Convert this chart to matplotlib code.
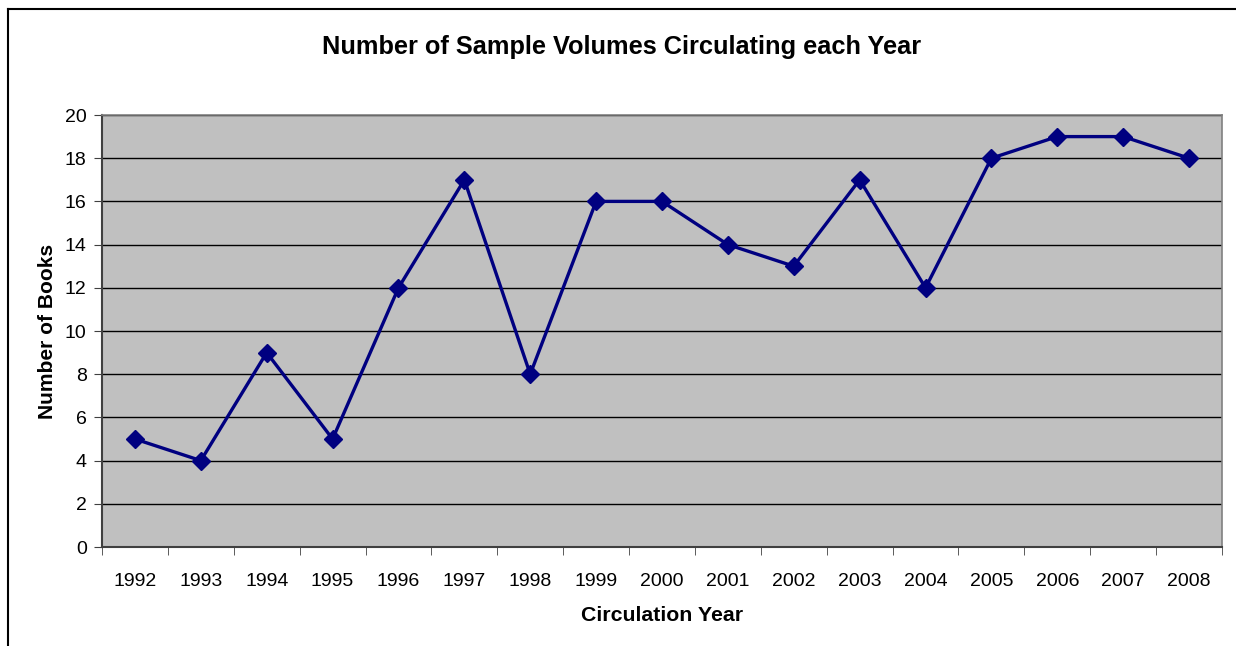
import matplotlib
matplotlib.use("Agg")
import matplotlib.pyplot as plt
from matplotlib.lines import Line2D

years = ["1992", "1993", "1994", "1995", "1996", "1997", "1998", "1999", "2000",
         "2001", "2002", "2003", "2004", "2005", "2006", "2007", "2008"]
books = [5, 4, 9, 5, 12, 17, 8, 16, 16, 14, 13, 17, 12, 18, 19, 19, 18]
yticks = [0, 2, 4, 6, 8, 10, 12, 14, 16, 18, 20]

plt.rcParams['font.family'] = ['Liberation Sans', 'DejaVu Sans']

W, H = 1236, 646
fig = plt.figure(figsize=(W / 100, H / 100), dpi=100)
fig.patch.set_facecolor("white")

# outer chart border (left and top visible)
fig.add_artist(Line2D([7.5 / W, 7.5 / W], [0, 1 - 9 / H], color="black", lw=1.5, transform=fig.transFigure))
fig.add_artist(Line2D([7.5 / W, 1], [1 - 9 / H, 1 - 9 / H], color="black", lw=1.5, transform=fig.transFigure))

left, right, top, bottom = 102, 1222, 115, 547
ax = fig.add_axes([left / W, 1 - bottom / H, (right - left) / W, (bottom - top) / H])
ax.set_facecolor("#C0C0C0")

x = list(range(len(years)))
ax.plot(x, books, color="#000080", lw=2.4, marker="D", markersize=9.5,
        markerfacecolor="#000080", markeredgecolor="#000080", zorder=3)

ax.set_xlim(-0.5, len(years) - 0.5)
ax.set_ylim(0, 20)
ax.set_yticks(yticks)
ax.yaxis.grid(True, color="black", lw=1)
ax.set_axisbelow(True)

ax.set_xticks(x)
ax.set_xticklabels(years)
ax.tick_params(axis="x", length=0, labelsize=14, pad=18.5)
ax.set_xticks([i - 0.5 for i in range(len(years) + 1)], minor=True)
ax.tick_params(axis="x", which="minor", length=6, color="#404040", direction="out")
ax.tick_params(axis="y", length=6, color="#404040", labelsize=14, direction="out", pad=5)

for s in ["top", "right"]:
    ax.spines[s].set_color("#808080")
    ax.spines[s].set_linewidth(1.2)
for s in ["left", "bottom"]:
    ax.spines[s].set_color("#404040")
    ax.spines[s].set_linewidth(1.5)

ax.set_xlabel("Circulation Year", fontsize=15.3, fontweight="bold", labelpad=12)
ax.set_ylabel("Number of Books", fontsize=15.1, fontweight="bold", labelpad=6)

fig.text(622 / W, 1 - 47 / H, "Number of Sample Volumes Circulating each Year",
         ha="center", va="center", fontsize=18.3, fontweight="bold")

fig.savefig("out.png", dpi=100)
